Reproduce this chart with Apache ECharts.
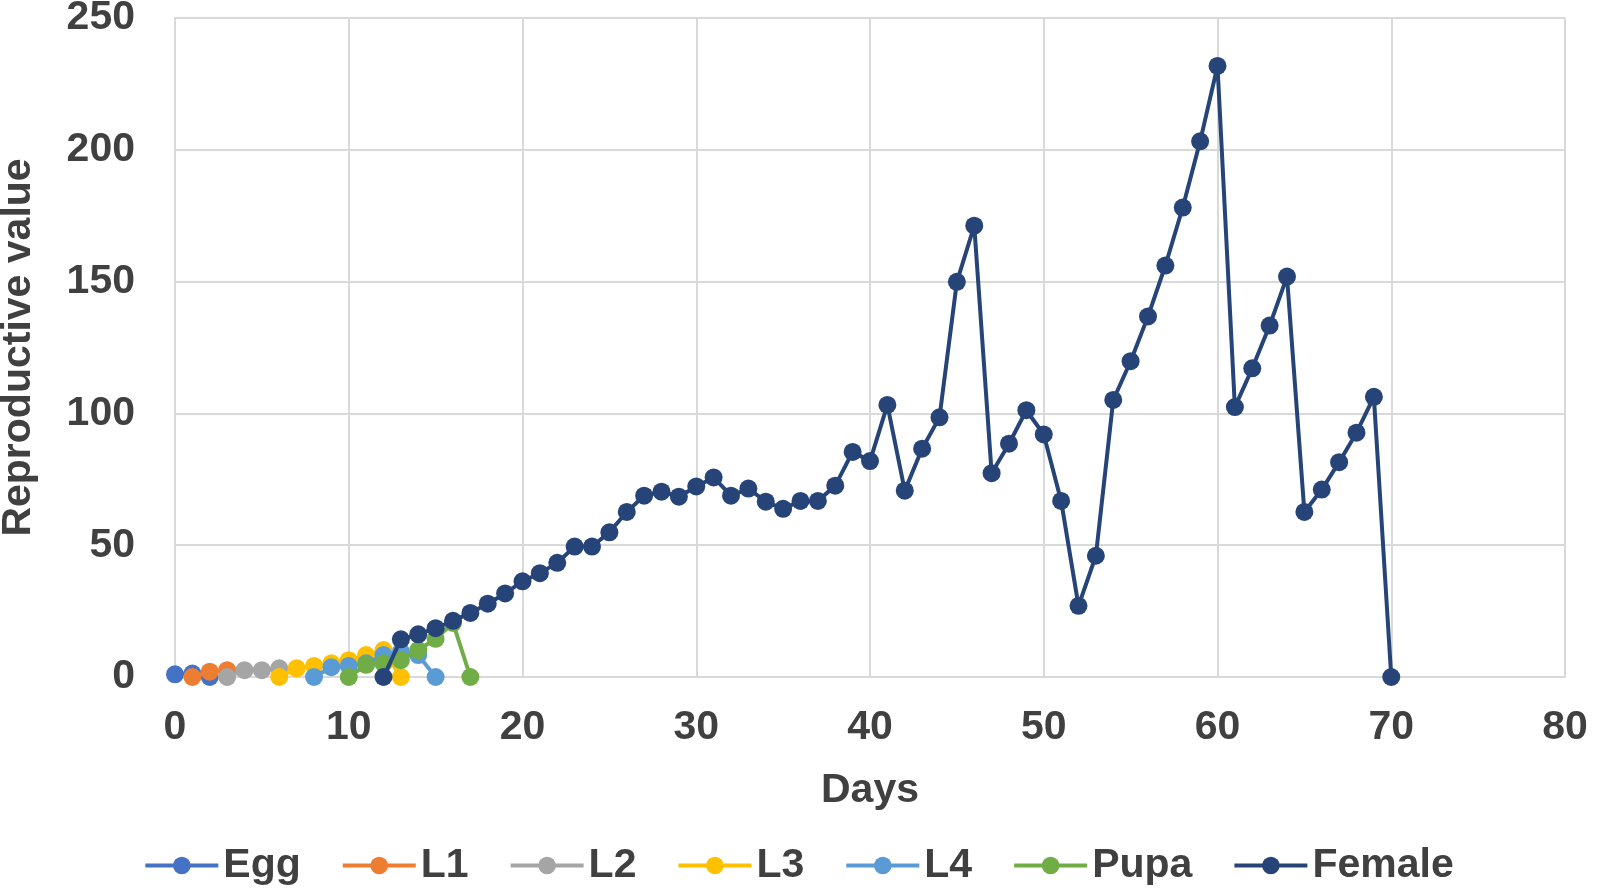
<!DOCTYPE html>
<html>
<head>
<meta charset="utf-8">
<title>Reproductive value</title>
<script src="https://cdn.jsdelivr.net/npm/echarts@6/dist/echarts.min.js"></script>
<style>
  html, body { margin: 0; padding: 0; background: #fff; }
  #chart { width: 1597px; height: 890px; }
</style>
</head>
<body>
<div id="chart"></div>
<script>
// days (x) and reproductive values (y) for each stage
const eggDays = [0, 1, 2]
const eggVals = [1, 1.3, 0]
const l1Days = [1, 2, 3]
const l1Vals = [0, 2, 2.6]
const l2Days = [3, 4, 5, 6]
const l2Vals = [0, 2.6, 2.6, 3.3]
const l3Days = [6, 7, 8, 9, 10, 11, 12, 13]
const l3Vals = [0, 3.3, 4.2, 5.2, 6.4, 8.3, 10.2, 0]
const l4Days = [8, 9, 10, 11, 12, 13, 14, 15]
const l4Vals = [0, 3.7, 4.2, 5.2, 8.3, 9.6, 8.3, 0]
const pupaDays = [10, 11, 12, 13, 14, 15, 16, 17]
const pupaVals = [0, 4.6, 5.2, 6.4, 10.2, 14.5, 20.5, 0]
const femaleDays = [12, 13, 14, 15, 16, 17, 18, 19, 20, 21, 22, 23, 24, 25, 26, 27, 28, 29, 30,
  31, 32, 33, 34, 35, 36, 37, 38, 39, 40, 41, 42, 43, 44, 45, 46, 47, 48, 49, 50,
  51, 52, 53, 54, 55, 56, 57, 58, 59, 60, 61, 62, 63, 64, 65, 66, 67, 68, 69, 70]
const femaleVals = [0, 14.3, 16.2, 18.5, 21.3, 24.3, 27.8, 31.7, 36.3, 39.4, 43.3, 49.5, 49.5, 54.9, 62.6, 68.8, 70.3, 68.4, 72.3,
  75.7, 68.8, 71.5, 66.5, 63.8, 66.8, 66.8, 72.6, 85.4, 81.9, 103.2, 70.7, 86.6, 98.5, 149.9, 171.2, 77.3, 88.5, 101.2, 92.0,
  66.8, 27.0, 46.0, 105.1, 119.8, 136.8, 156.1, 178.1, 203.2, 231.8, 102.4, 117.1, 133.3, 151.9, 62.6, 71.1, 81.5, 92.7, 106.3, 0]

const stageNames = ['Egg', 'L1', 'L2', 'L3', 'L4', 'Pupa', 'Female']
const stageColors = ['#4472C4', '#ED7D31', '#A5A5A5', '#FFC000', '#5B9BD5', '#70AD47', '#264478']
const stageDays = [eggDays, l1Days, l2Days, l3Days, l4Days, pupaDays, femaleDays]
const stageVals = [eggVals, l1Vals, l2Vals, l3Vals, l4Vals, pupaVals, femaleVals]

const font = "'Liberation Sans', Arial, sans-serif"
const textColor = '#404040'
const gridColor = '#D9D9D9'

const chartDom = document.getElementById('chart')
const myChart = echarts.init(chartDom)

const series = stageNames.map((name, i) => ({
  name: name,
  type: 'line',
  data: stageDays[i].map((d, j) => [d, stageVals[i][j]]),
  symbol: 'circle',
  symbolSize: 18,
  color: stageColors[i],
  lineStyle: { width: 4, color: stageColors[i] },
  itemStyle: { color: stageColors[i] },
  z: 2 + i
}))

const option = {
  animation: false,
  grid: {
    left: 175,
    right: 32,
    top: 18,
    bottom: 213,
    outerBoundsMode: 'none'
  },
  legend: {
    data: stageNames,
    top: 840,
    left: 'center',
    itemWidth: 73,
    itemHeight: 22,
    itemGap: 40,
    lineStyle: { width: 4 },
    textStyle: {
      fontFamily: font,
      fontWeight: 'bold',
      fontSize: 41,
      color: textColor
    }
  },
  xAxis: {
    type: 'value',
    min: 0,
    max: 80,
    interval: 10,
    name: 'Days',
    nameLocation: 'middle',
    nameGap: 93,
    nameTextStyle: {
      fontFamily: font,
      fontWeight: 'bold',
      fontSize: 41,
      color: textColor
    },
    axisLine: { show: true, lineStyle: { color: gridColor, width: 2 } },
    axisTick: { show: false },
    axisLabel: {
      margin: 30,
      fontFamily: font,
      fontWeight: 'bold',
      fontSize: 41,
      color: textColor
    },
    splitLine: { show: true, lineStyle: { color: gridColor, width: 2 } }
  },
  yAxis: {
    type: 'value',
    min: 0,
    max: 250,
    interval: 50,
    name: 'Reproductive value',
    nameLocation: 'middle',
    nameGap: 136,
    nameTextStyle: {
      fontFamily: font,
      fontWeight: 'bold',
      fontSize: 41,
      color: textColor
    },
    axisLine: { show: true, lineStyle: { color: gridColor, width: 2 } },
    axisTick: { show: false },
    axisLabel: {
      margin: 40,
      fontFamily: font,
      fontWeight: 'bold',
      fontSize: 41,
      color: textColor
    },
    splitLine: { show: true, lineStyle: { color: gridColor, width: 2 } }
  },
  series: series
}

option && myChart.setOption(option)
window.addEventListener('resize', function () {
  myChart.resize()
})
</script>
</body>
</html>
